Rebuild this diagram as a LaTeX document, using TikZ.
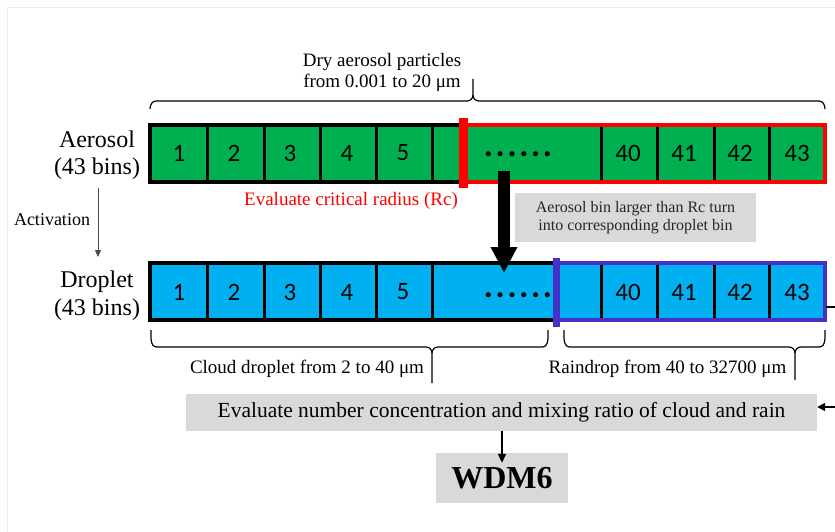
\documentclass[tikz,border=0pt]{standalone}
\usepackage{fontspec}
\setmainfont{Liberation Serif}
\newfontfamily\cellfont{Carlito}
\usetikzlibrary{arrows.meta}
\definecolor{agreen}{RGB}{0,176,80}
\definecolor{dblue}{RGB}{0,176,240}
\definecolor{rpurple}{RGB}{68,50,200}
\definecolor{boxgray}{RGB}{217,217,217}
\definecolor{framegray}{RGB}{236,236,236}
\begin{document}
\begin{tikzpicture}[x=1pt,y=-1pt,
  num/.style={font=\cellfont\fontsize{25}{25}\selectfont, inner sep=0pt},
  dotsnode/.style={font=\cellfont\bfseries\fontsize{34}{34}\selectfont\addfontfeature{LetterSpace=8}, inner sep=0pt, anchor=base},
  lab/.style={font=\fontsize{24}{28}\selectfont, anchor=base, inner sep=0pt},
  note/.style={font=\fontsize{19}{21}\selectfont, anchor=base, inner sep=0pt},
  divider/.style={line width=3pt},
  bracestyle/.style={line width=1.2pt},
  graybox/.style={fill=boxgray, inner sep=0pt, align=center}
]
\useasboundingbox (0,0) rectangle (835,532);
\draw[framegray, line width=1pt] (7,532) -- (7,8) -- (835,8);

% ---------- Aerosol bar ----------
\fill[agreen] (150,125) rectangle (825,182);
\foreach \x in {207,264,320,376,432,601,657,714,769}
  \draw[divider] (\x,125) -- (\x,182);
\draw[line width=3.5pt] (150,125) rectangle (463,182);
\draw[red, line width=3.5pt] (463,125) rectangle (825,182);
\fill[red] (459,118) rectangle (468,188);
\node[num] (a1) at (179,153) {1};
\node[num] (a2) at (234,153) {2};
\node[num] (a3) at (290,153) {3};
\node[num] (a4) at (347,153) {4};
\node[num] (a5) at (403,153) {5};
\node[num] (a40) at (628,153) {40};
\node[num] (a41) at (684,153) {41};
\node[num] (a42) at (740,153) {42};
\node[num] (a43) at (797,153) {43};
\node[dotsnode] (adots) at (518,157) {......};

% ---------- Droplet bar ----------
\fill[dblue] (150,263) rectangle (825,320);
\foreach \x in {207,264,320,376,432,601,657,714,769}
  \draw[divider] (\x,263) -- (\x,320);
\draw[line width=3.5pt] (150,263) rectangle (556,320);
\draw[rpurple, line width=3.5pt] (556,263) rectangle (825,320);
\fill[rpurple] (553,258) rectangle (560,327);
\node[num] (d1) at (179,292) {1};
\node[num] (d2) at (234,292) {2};
\node[num] (d3) at (290,292) {3};
\node[num] (d4) at (347,292) {4};
\node[num] (d5) at (403,292) {5};
\node[num] (d40) at (628,292) {40};
\node[num] (d41) at (684,292) {41};
\node[num] (d42) at (740,292) {42};
\node[num] (d43) at (797,292) {43};
\node[dotsnode] (ddots) at (518,297) {......};

% ---------- Left labels ----------
\node[lab] (alab1) at (97,147) {Aerosol};
\node[lab] (alab2) at (97,175) {(43 bins)};
\node[lab] (dlab1) at (97,287) {Droplet};
\node[lab] (dlab2) at (97,315) {(43 bins)};
\node[font=\fontsize{18}{18}\selectfont, anchor=base, inner sep=0pt] (act) at (52,225) {Activation};
\coordinate (actS) at (98,188);
\coordinate (actE) at (98,257);
\draw[black!70, line width=0.8pt, -{Triangle[width=6pt,length=7pt]}] (actS) -- (actE);

% ---------- Top brace ----------
\node[note] (dry1) at (382,67) {Dry aerosol particles};
\node[note] (dry2) at (382,88) {from 0.001 to 20 μm};
\draw[bracestyle] (150,109) to[out=90,in=180] (156,101) -- (467,101)
  to[out=0,in=-90] (473,95) -- (473,79);
\draw[bracestyle] (473,95) to[out=-90,in=180] (479,101) -- (819,101)
  to[out=0,in=90] (825,109);

% ---------- Red note ----------
\node[note, text=red] (rc) at (351,205) {Evaluate critical radius (Rc)};

% ---------- Big arrow ----------
\coordinate (bigS) at (504,171);
\coordinate (bigE) at (504,273);
\draw[line width=12pt, -{Triangle[width=25pt,length=26pt]}] (bigS) -- (bigE);

% ---------- Gray note ----------
\node[graybox, minimum width=241pt, minimum height=49pt,
      font=\fontsize{16}{18}\selectfont, text=black!85] (turn) at (635.5,217.5)
  {Aerosol bin larger than Rc turn\\into corresponding droplet bin};

% ---------- Bottom braces ----------
\draw[bracestyle] (151,330) to[out=-90,in=180] (157,347) -- (426,347)
  to[out=0,in=90] (432,353) -- (432,383);
\draw[bracestyle] (432,353) to[out=90,in=180] (438,347) -- (542,347)
  to[out=0,in=-90] (548,330);
\draw[bracestyle] (564,330) to[out=-90,in=180] (570,347) -- (789,347)
  to[out=0,in=90] (795,353) -- (795,380);
\draw[bracestyle] (795,353) to[out=90,in=180] (801,347) -- (819,347)
  to[out=0,in=-90] (825,330);
\node[note] (cloud) at (307,373) {Cloud droplet from 2 to 40 μm};
\node[note] (rain) at (667.5,373) {Raindrop from 40 to 32700 μm};

% ---------- Evaluate box and WDM6 ----------
\node[graybox, minimum width=631pt, minimum height=37pt,
      font=\fontsize{21.5}{21.5}\selectfont] (evalbox) at (501.5,412.5)
  {Evaluate number concentration and mixing ratio of cloud and rain};
\node[graybox, minimum width=132pt, minimum height=50pt,
      font=\bfseries\fontsize{32}{32}\selectfont] (wdm) at (502,478) {WDM6};
\draw[line width=1.5pt, -{Triangle[width=8pt,length=9pt]}, shorten >=-10pt]
  (evalbox.south -| wdm.north) -- (wdm.north);

\coordinate (dR) at (826,307);
\draw[line width=1.5pt, -{Triangle[width=8pt,length=8pt]}]
  (dR) -- (850,307) |- ([yshift=5.5pt]evalbox.east);
\end{tikzpicture}
\end{document}
